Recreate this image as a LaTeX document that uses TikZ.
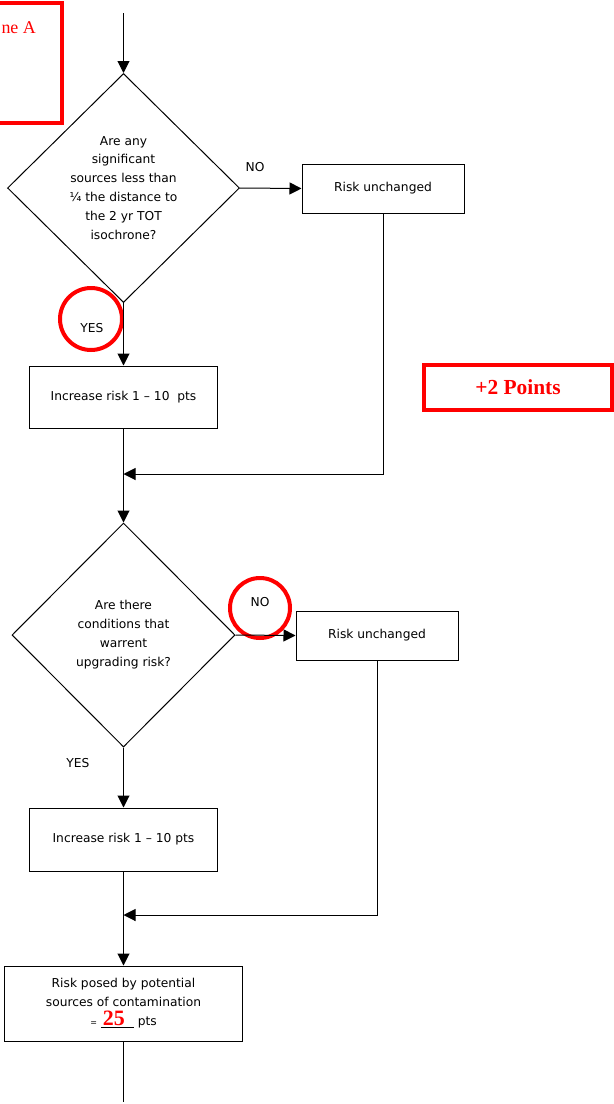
\documentclass[tikz,border=0pt]{standalone}
\usepackage{fontspec}
\setmainfont{DejaVu Sans}
\newfontfamily\serifred{Liberation Serif}
\usetikzlibrary{arrows.meta, shapes.geometric, positioning}

\begin{document}
\begin{tikzpicture}[x=1bp, y=-1bp,
  every node/.style={font=\fontsize{12.3}{19}\selectfont},
  flow/.style={line width=1bp, -{Triangle[length=12bp,width=12bp]}},
  link/.style={line width=1bp},
  choice/.style={draw, line width=1bp, shape=diamond, inner sep=0pt, align=center},
  stepbox/.style={draw, line width=1bp, rectangle, inner sep=0pt, align=center},
  ring/.style={draw=red, line width=4bp},
  redbox/.style={draw=red, line width=4bp, text=red, font=\serifred\bfseries\fontsize{21.5}{24}\selectfont}]

    \useasboundingbox (0,0) rectangle (614,1104);

    % Red notes
    \draw[ring] (-10,3) rectangle (62,123);
    \node[text=red, anchor=base west, font=\serifred\fontsize{18}{20}\selectfont] (zone) at (-2,33) {ne A};
    \node[redbox, minimum width=188bp, minimum height=45bp] (bonus) at (518,387.5) {+2 Points};

    % First question
    \coordinate (start) at (123.5,13);
    \node[choice, minimum width=232bp, minimum height=229bp] (q1) at (123.5,188) {Are any\\significant\\sources less than\\¼ the distance to\\the 2 yr TOT\\isochrone?};
    \node[stepbox, minimum width=162bp, minimum height=49bp] (same1) at (383,188.5) {Risk unchanged};
    \node[stepbox, minimum width=187bp, minimum height=62bp] (add1) at (123.5,397) {Increase risk 1 -- 10\ \ pts};
    \node (no1) at (255,167) {NO};
    \node (yes1) at (92,328) {YES};
    \draw[ring] (91,319) circle (31);
    \coordinate (join1) at (123.5,474);

    \draw[flow] (start) -- (q1.north);
    \draw[flow] (q1.east) -- (same1.west);
    \draw[flow] (q1.south) -- (add1.north);
    \draw[flow] (same1.south) |- (join1);

    % Second question
    \node[choice, minimum width=223bp, minimum height=224bp] (q2) at (123.5,635) {Are there\\conditions that\\warrent\\upgrading risk?};
    \node[stepbox, minimum width=162bp, minimum height=49bp] (same2) at (377,635.5) {Risk unchanged};
    \node[stepbox, minimum width=187bp, minimum height=63bp] (add2) at (123.5,839.5) {Increase risk 1 -- 10 pts};
    \node (no2) at (260,602) {NO};
    \draw[ring] (260,608) circle (30);
    \node (yes2) at (78,763) {YES};
    \coordinate (join2) at (123.5,915);

    \draw[flow] (add1.south) -- (q2.north);
    \draw[flow] (q2.east) -- (same2.west);
    \draw[flow] (q2.south) -- (add2.north);
    \draw[flow] (same2.south) |- (join2);

    % Total
    \node[stepbox, minimum width=237bp, minimum height=75bp] (total) at (123.5,1003.5) {Risk posed by potential\\sources of contamination\\{\fontsize{8}{8}\selectfont=}\ \underline{\makebox[33bp][l]{\,\serifred\bfseries\fontsize{22}{22}\selectfont\textcolor{red}{25}}}\ pts};
    \coordinate (end) at (123.5,1102);

    \draw[flow] (add2.south) -- (total.north);
    \draw[link] (total.south) -- (end);

\end{tikzpicture}
\end{document}
